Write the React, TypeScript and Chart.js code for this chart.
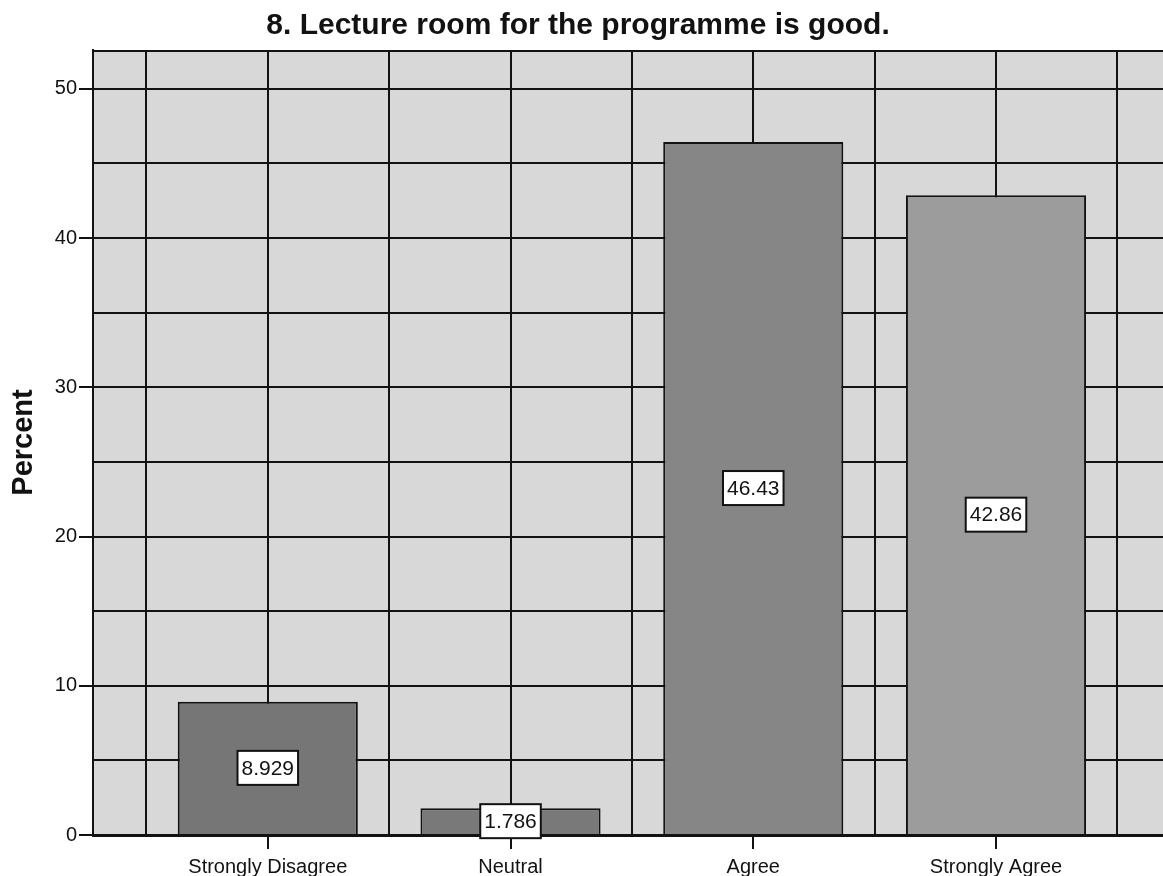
import React, { useEffect, useRef } from 'react';
import { Chart, registerables } from 'chart.js';

Chart.register(...registerables);

const chartTitle = '8. Lecture room for the programme is good.';
const yAxisTitle = 'Percent';
const categories = ['Strongly Disagree', 'Neutral', 'Agree', 'Strongly Agree'];
const percents = [8.929, 1.786, 46.43, 42.86];
const yGridTicks = [0, 5, 10, 15, 20, 25, 30, 35, 40, 45, 50];
const barColors = ['#767676', '#797979', '#868686', '#9c9c9c'];

const FONT = '"Liberation Sans", Arial, Helvetica, sans-serif';
const INK = '#121212';
const PLOT_BG = '#d8d8d8';

const xGridTicks: number[] = [];
categories.forEach((_, i) => {
  xGridTicks.push(i + 0.5, i + 1);
});
xGridTicks.push(categories.length + 0.5);

const plotBackground = {
  id: 'plotBackground',
  beforeDraw(chart: any) {
    const { ctx, chartArea } = chart;
    ctx.save();
    ctx.fillStyle = '#ffffff';
    ctx.fillRect(0, 0, chart.width, chart.height);
    ctx.fillStyle = PLOT_BG;
    ctx.fillRect(chartArea.left, chartArea.top, chartArea.right - chartArea.left, chartArea.bottom - chartArea.top);
    ctx.restore();
  },
  beforeDatasetsDraw(chart: any) {
    const { ctx, chartArea } = chart;
    ctx.save();
    ctx.strokeStyle = INK;
    ctx.lineWidth = 2;
    ctx.beginPath();
    ctx.moveTo(chartArea.left, chartArea.top + 1);
    ctx.lineTo(chartArea.right, chartArea.top + 1);
    ctx.stroke();
    ctx.restore();
  },
};

const valueLabels = {
  id: 'valueLabels',
  afterDatasetsDraw(chart: any) {
    const { ctx } = chart;
    const meta = chart.getDatasetMeta(0);
    ctx.save();
    ctx.font = `21px ${FONT}`;
    ctx.textAlign = 'center';
    ctx.textBaseline = 'middle';
    meta.data.forEach((el: any, i: number) => {
      const text = percents[i].toPrecision(4);
      const cx = el.x;
      const cy = (el.y + el.base) / 2;
      const w = ctx.measureText(text).width + 8;
      const h = 34;
      ctx.fillStyle = '#ffffff';
      ctx.fillRect(cx - w / 2, cy - h / 2, w, h);
      ctx.strokeStyle = INK;
      ctx.lineWidth = 2;
      ctx.strokeRect(cx - w / 2, cy - h / 2, w, h);
      ctx.fillStyle = INK;
      ctx.fillText(text, cx, cy + 1);
    });
    ctx.restore();
  },
};

export default function App() {
  const canvasRef = useRef<HTMLCanvasElement | null>(null);

  useEffect(() => {
    document.body.style.margin = '0';
    document.body.style.overflow = 'hidden';
    document.documentElement.style.overflow = 'hidden';
    const canvas = canvasRef.current;
    if (!canvas) return;
    const chart = new Chart(canvas, {
      type: 'bar',
      data: {
        datasets: [
          {
            data: categories.map((_, i) => ({ x: i + 1, y: percents[i] })),
            backgroundColor: barColors,
            borderColor: INK,
            borderWidth: 2,
            barPercentage: 0.742,
            categoryPercentage: 2,
          },
        ],
      },
      options: {
        responsive: false,
        animation: false,
        layout: { padding: 0 },
        plugins: {
          legend: { display: false },
          tooltip: { enabled: false },
          title: {
            display: true,
            text: chartTitle,
            color: INK,
            font: { family: FONT, size: 30, weight: 'bold', lineHeight: 1.2 },
            padding: { top: 8, bottom: 6 },
          },
        },
        scales: {
          x: {
            type: 'linear',
            min: 0.28,
            max: 4.725,
            offset: false,
            afterBuildTicks: (s: any) => {
              s.ticks = xGridTicks.map((v) => ({ value: v }));
            },
            afterFit: (s: any) => {
              s.height = 41;
            },
            ticks: {
              autoSkip: false,
              maxRotation: 0,
              minRotation: 0,
              padding: 6,
              color: INK,
              font: { family: FONT, size: 20 },
              callback: (v: any) => (Number.isInteger(v) ? categories[v - 1] : ''),
            },
            grid: {
              offset: false,
              color: INK,
              lineWidth: 2,
              drawTicks: true,
              tickLength: 14,
              tickWidth: 2,
              tickColor: (c: any) => (c.tick && Number.isInteger(c.tick.value) ? INK : 'rgba(0,0,0,0)'),
            },
            border: { display: true, color: INK, width: 3 },
          },
          y: {
            min: 0,
            max: 52.6,
            afterBuildTicks: (s: any) => {
              s.ticks = yGridTicks.map((v) => ({ value: v }));
            },
            afterFit: (s: any) => {
              s.width = 109;
            },
            ticks: {
              padding: 2,
              color: INK,
              font: { family: FONT, size: 20 },
              callback: (v: any) => (v % 10 === 0 ? String(v) : ''),
            },
            grid: {
              color: INK,
              lineWidth: 2,
              drawTicks: true,
              tickLength: 14,
              tickWidth: 2,
              tickColor: (c: any) => (c.tick && c.tick.value % 10 === 0 ? INK : 'rgba(0,0,0,0)'),
            },
            border: { display: true, color: INK, width: 2 },
            title: {
              display: true,
              text: yAxisTitle,
              color: INK,
              font: { family: FONT, size: 29, weight: 'bold', lineHeight: 1.2 },
              padding: { top: 23, bottom: 0 },
            },
          },
        },
      },
      plugins: [plotBackground, valueLabels],
    } as any);
    return () => chart.destroy();
  }, []);

  return (
    <div style={{ position: 'absolute', left: -16, top: 0, width: 1188, height: 876 }}>
      <canvas ref={canvasRef} width={1188} height={876} style={{ display: 'block', width: 1188, height: 876 }} />
    </div>
  );
}
